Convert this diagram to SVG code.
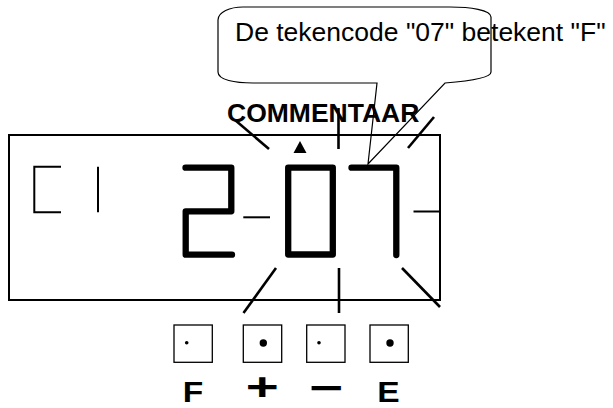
<svg xmlns="http://www.w3.org/2000/svg" width="613" height="408" viewBox="0 0 613 408">
  <style>
    .seg { fill: none; stroke: #000; stroke-width: 6.3; stroke-linecap: round; stroke-linejoin: round; }
    .thin { fill: none; stroke: #000; stroke-width: 2; }
    .ray { fill: none; stroke: #000; stroke-width: 2.6; }
    .btn { fill: #fff; stroke: #000; stroke-width: 1.3; }
    .lbl { font-family: "Liberation Sans", Arial, sans-serif; font-weight: bold; fill: #000; }
    .call { font-family: "Liberation Sans", Arial, sans-serif; fill: #000; }
  </style>
  <rect width="613" height="408" fill="#fff"/>

  <g id="comment-label">
    <text class="lbl" x="227" y="121.5" font-size="26.5">COMMENTAAR</text>
  </g>

  <g id="display">
    <rect class="thin" x="9" y="135" width="431" height="165"/>
    <path class="thin" d="M61,166.7 H34.3 V212.3 H61"/>
    <line class="thin" x1="98" y1="166.7" x2="98" y2="212.3"/>
    <polygon points="300,141 293.5,153 306.5,153" fill="#000"/>
    <path class="seg" d="M185.5,167.7 H231.3 V211.3 H185.7 V254.7 H232"/>
    <line class="thin" x1="243.3" y1="217.3" x2="270" y2="217.3"/>
    <rect class="seg" x="288.2" y="167.6" width="44.6" height="86.9"/>
    <path class="seg" d="M351.5,167.7 H396.3 V255"/>
    <line class="thin" x1="413.5" y1="211.5" x2="440" y2="211.5"/>
  </g>

  <g id="rays">
    <line class="ray" x1="235" y1="120" x2="269" y2="149"/>
    <line class="ray" x1="338.5" y1="108" x2="338.5" y2="149"/>
    <line class="ray" x1="408" y1="148" x2="434" y2="117"/>
    <line class="ray" x1="276" y1="268" x2="243.5" y2="313"/>
    <line class="ray" x1="339" y1="268" x2="339" y2="313"/>
    <line class="ray" x1="402" y1="268" x2="440" y2="307"/>
  </g>

  <g id="callout">
    <path d="M243,7 L450,7 C470,7 491,10 491,17 L491,72 C491,78 470,81 445,83 L368,164 L377,83 L253,83 C235,83 218,80 218,72 L218,20 C218,12 230,7 243,7 Z" fill="none" stroke="#000" stroke-width="1.2"/>
    <text class="call" x="235" y="41" font-size="26.5">De tekencode "07" betekent "F"</text>
  </g>

  <g id="button-F">
    <rect class="btn" x="174" y="325" width="38.3" height="37.3"/>
    <circle cx="186.7" cy="342.7" r="1.8" fill="#000"/>
    <text class="lbl" font-size="30" text-anchor="middle" transform="translate(193,401.5) scale(1.12,1)">F</text>
  </g>
  <g id="button-plus">
    <rect class="btn" x="243.3" y="325" width="38.4" height="37.3"/>
    <circle cx="263.3" cy="343" r="3.7" fill="#000"/>
    <text class="lbl" font-size="39" text-anchor="middle" transform="translate(262.3,399.5) scale(1.45,1)">+</text>
  </g>
  <g id="button-minus">
    <rect class="btn" x="306.7" y="325" width="38.3" height="37.3"/>
    <circle cx="319" cy="342.7" r="1.8" fill="#000"/>
    <text class="lbl" font-size="39" text-anchor="middle" transform="translate(326.3,400.5) scale(1.5,1)">−</text>
  </g>
  <g id="button-E">
    <rect class="btn" x="370" y="325" width="38.3" height="37.3"/>
    <circle cx="390" cy="343" r="3.7" fill="#000"/>
    <text class="lbl" font-size="30" text-anchor="middle" transform="translate(388.5,401.5) scale(1.12,1)">E</text>
  </g>
</svg>
